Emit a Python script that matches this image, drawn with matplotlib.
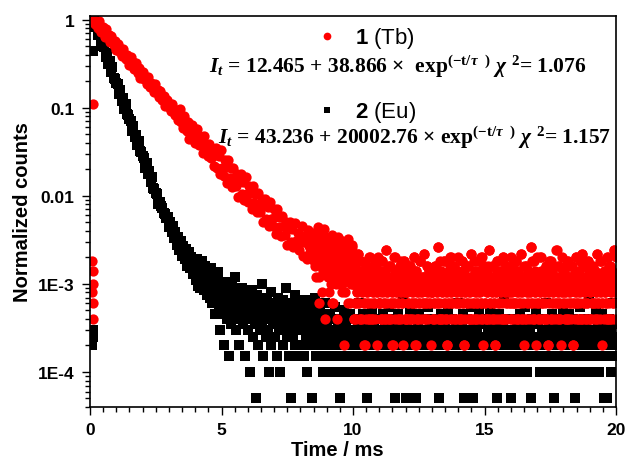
import numpy as np
from matplotlib import pyplot as plt
from matplotlib.ticker import MultipleLocator, LogLocator, NullFormatter

# --- data ----------------------------------------------------------------
# 1 (Tb): channels before the pulse, the decay (0.0465 ms step from 0.15 ms),
# then the noisy tail as detector counts (1 count = 2e-4), even channels from
# 8.5 ms and odd channels from 8.5125 ms, each at a 0.025 ms step
tb_pre_t = [0.10, 0.08, 0.10, 0.12, 0.08, 0.10, 0.12]
tb_pre = [0.109, 1.8e-3, 1.4e-3, 1.0e-3, 8e-4, 6e-4, 4e-4]
tb_decay_dt = 0.0465

tb_decay = [
    1.00, 0.897, 0.949, 0.798, 0.960, 0.809, 0.733, 0.823, 0.748, 0.634,
    0.786, 0.637, 0.674, 0.562, 0.656, 0.569, 0.515, 0.578, 0.448, 0.517,
    0.524, 0.435, 0.460, 0.387, 0.465, 0.392, 0.355, 0.399, 0.363, 0.308,
    0.381, 0.309, 0.327, 0.273, 0.318, 0.275, 0.250, 0.280, 0.218, 0.251,
    0.254, 0.211, 0.223, 0.188, 0.225, 0.190, 0.172, 0.193, 0.176, 0.150,
    0.185, 0.150, 0.158, 0.132, 0.154, 0.134, 0.121, 0.136, 0.105, 0.122,
    0.123, 0.102, 0.108, 0.0909, 0.109, 0.0921, 0.0834, 0.0937, 0.0853, 0.0723,
    0.0975, 0.0695, 0.0790, 0.0583, 0.0796, 0.0635, 0.0549, 0.0695, 0.0445, 0.0601,
    0.0629, 0.0463, 0.0534, 0.0396, 0.0574, 0.0438, 0.0373, 0.0475, 0.0413, 0.0310,
    0.0472, 0.0337, 0.0382, 0.0282, 0.0385, 0.0307, 0.0266, 0.0337, 0.0216, 0.0292,
    0.0348, 0.0209, 0.0285, 0.0175, 0.0327, 0.0206, 0.0169, 0.0256, 0.0210, 0.0138,
    0.0255, 0.0161, 0.0205, 0.0127, 0.0209, 0.0157, 0.0128, 0.0178, 0.0097, 0.0151,
    0.0175, 0.0105, 0.0144, 0.0089, 0.0165, 0.0104, 0.0086, 0.0130, 0.0107, 0.0071,
    0.0130, 0.0082, 0.0105, 0.0066, 0.0107, 0.0081, 0.0066, 0.0092, 0.0051, 0.0080,
    0.0091, 0.0055, 0.0075, 0.0046, 0.0086, 0.0055, 0.0046, 0.0070, 0.0057, 0.0037,
    0.0070, 0.0044, 0.0057, 0.0035, 0.0059, 0.0045, 0.0036, 0.0051, 0.0028, 0.0044,
    0.0050, 0.0030, 0.0042, 0.0026, 0.0049, 0.0031, 0.0026, 0.0038, 0.0024, 0.0033,
    0.0045, 0.0021, 0.0030, 0.0036, 0.0019, 0.0041, 0.0027, 0.0023, 0.0034, 0.0029,
]

tb_tail_even = [
    14, 9, 18, 11, 6, 16, 22, 10, 13, 3, 15, 8, 12, 19, 7, 11, 14, 2, 10, 17,
    12, 7, 15, 4, 10, 8, 13, 5, 18, 9, 3, 11, 7, 14, 6, 10, 2, 12, 8, 16,
    5, 9, 11, 4, 13, 7, 10, 1, 8, 12, 6, 15, 9, 3, 11, 7, 10, 5, 14, 8,
    5, 2, 8, 3, 6, 2, 4, 11, 3, 7, 2, 5, 9, 4, 2, 6, 3, 1, 5, 2,
    8, 4, 3, 6, 2, 10, 5, 3, 7, 2, 4, 6, 3, 9, 2, 5, 4, 1, 7, 3,
    3, 6, 2, 4, 9, 2, 5, 3, 7, 2, 12, 4, 3, 6, 2, 5, 8, 3, 2, 4,
    1, 6, 3, 10, 2, 5, 4, 7, 3, 2, 6, 8, 4, 2, 3, 5, 1, 9, 4, 2,
    2, 7, 4, 3, 2, 5, 8, 2, 6, 3, 4, 2, 10, 5, 3, 1, 7, 2, 4, 6,
    3, 2, 9, 5, 4, 2, 3, 6, 11, 2, 5, 3, 8, 4, 2, 7, 3, 6, 1, 4,
    4, 2, 6, 3, 8, 2, 5, 4, 3, 13, 2, 6, 3, 7, 2, 4, 5, 2, 9, 3,
    6, 2, 4, 1, 5, 3, 7, 2, 10, 4, 3, 2, 6, 8, 5, 2, 3, 4, 7, 2,
    6, 3, 2, 5, 4, 9, 2, 3, 7, 1, 4, 2, 6, 3, 5, 8, 2, 4, 3, 11,
    2, 5, 6, 3, 2, 7, 4, 2, 3, 9, 5, 2, 4, 6, 3, 10, 2, 5, 1, 8,
    3, 5, 2, 7, 4, 2, 6, 12, 3, 2, 5, 4, 8, 2, 3, 6, 1, 4, 2, 9,
    5, 3, 2, 7, 4, 6, 2, 3, 10, 5, 2, 4, 8, 3, 2, 6, 4, 7, 3, 5,
    2, 4, 8, 3, 6, 2, 5, 3, 9, 2, 4, 7, 2, 3, 5, 11, 4, 2, 6, 3,
    1, 5, 2, 8, 4, 3, 7, 2, 6, 4, 13, 3, 2, 5, 9, 2, 4, 3, 6, 1,
    5, 3, 2, 6, 4, 10, 2, 3, 7, 5, 2, 4, 3, 8, 2, 6, 1, 4, 3, 5,
    9, 2, 7, 3, 4, 2, 6, 5, 3, 12, 2, 4, 8, 3, 2, 5, 6, 1, 4, 7,
    3, 7, 4, 2, 5, 3, 9, 2, 6, 4, 3, 2, 8, 5, 1, 3, 6, 2, 4, 10,
    3, 5, 2, 7, 4, 3, 2, 6, 11, 5, 2, 3, 4, 8, 2, 6, 3, 9, 5, 2,
    4, 2, 6, 3, 8, 5, 2, 3, 7, 4, 2, 11, 3, 5, 6, 2, 4, 9, 3, 1,
    5, 2, 7, 4, 3, 6, 2, 10, 5, 3, 2, 8, 4, 6, 2, 3, 5, 12, 4, 2,
]
tb_tail_odd = [
    11, 16, 8, 13, 20, 9, 12, 15, 6, 14, 10, 17, 4, 12, 9, 21, 13, 7, 11, 15,
    9, 14, 6, 11, 16, 8, 12, 3, 10, 13, 7, 15, 9, 11, 5, 13, 8, 17, 10, 6,
    12, 8, 14, 5, 10, 7, 11, 13, 4, 9, 12, 6, 16, 8, 10, 3, 11, 7, 13, 9,
    5, 2, 8, 3, 6, 9, 4, 11, 3, 7, 2, 5, 9, 4, 6, 7, 3, 1, 5, 8,
    8, 4, 3, 6, 2, 10, 5, 7, 6, 2, 4, 6, 3, 9, 8, 5, 4, 10, 7, 3,
    3, 6, 2, 7, 9, 4, 5, 3, 7, 2, 12, 4, 8, 6, 2, 5, 8, 3, 6, 4,
    1, 6, 3, 10, 7, 5, 4, 7, 3, 2, 6, 8, 4, 9, 3, 5, 6, 9, 4, 5,
    2, 7, 4, 3, 8, 5, 8, 2, 6, 3, 4, 7, 10, 5, 3, 1, 7, 2, 4, 6,
    3, 9, 9, 5, 4, 6, 3, 6, 11, 2, 5, 3, 8, 4, 6, 7, 3, 6, 5, 4,
    4, 2, 6, 3, 8, 7, 5, 4, 3, 13, 2, 6, 9, 7, 2, 4, 5, 6, 9, 3,
    6, 2, 4, 1, 5, 3, 7, 8, 10, 4, 3, 5, 6, 8, 5, 2, 3, 4, 7, 10,
    6, 3, 2, 5, 4, 9, 7, 3, 7, 1, 4, 8, 6, 3, 5, 8, 2, 4, 6, 11,
    2, 5, 6, 3, 9, 7, 4, 2, 3, 9, 5, 7, 4, 6, 3, 10, 2, 5, 8, 8,
    3, 5, 2, 7, 4, 8, 6, 12, 3, 6, 5, 4, 8, 2, 3, 6, 1, 4, 7, 9,
    5, 3, 6, 7, 4, 6, 2, 9, 10, 5, 2, 4, 8, 3, 5, 6, 4, 7, 3, 10,
    2, 4, 8, 3, 6, 7, 5, 3, 9, 2, 4, 7, 5, 3, 5, 11, 4, 2, 6, 8,
    5, 5, 2, 8, 4, 3, 7, 6, 6, 4, 13, 3, 9, 5, 9, 2, 4, 7, 6, 10,
    5, 3, 2, 6, 4, 10, 7, 3, 7, 5, 2, 4, 6, 8, 2, 6, 1, 4, 9, 5,
    9, 2, 7, 3, 4, 8, 6, 5, 3, 12, 6, 4, 8, 3, 2, 5, 6, 10, 4, 7,
    3, 7, 4, 2, 5, 8, 9, 2, 6, 4, 3, 6, 8, 5, 1, 3, 6, 7, 4, 10,
    3, 5, 2, 7, 4, 9, 2, 6, 11, 5, 8, 3, 4, 8, 2, 6, 3, 9, 5, 7,
    4, 2, 6, 3, 8, 5, 7, 3, 7, 4, 2, 11, 3, 5, 6, 9, 4, 9, 3, 6,
    5, 6, 7, 4, 3, 6, 2, 10, 5, 8, 2, 8, 4, 6, 7, 3, 5, 12, 4, 10,
]
tb_unit = 2e-4

# 2 (Eu): decay at 0.05 ms step from 0.15 ms, tail as counts (0.025 ms step
# from 4.0 ms, 1 count = 5e-5)
eu_pre_t = [0.10, 0.10, 0.12, 0.08]
eu_pre = [0.444, 3e-4, 2.5e-4, 2e-4]

eu_decay = [
    1.00, 0.828, 0.884, 0.669, 0.758, 0.576, 0.561, 0.504, 0.486, 0.372,
    0.421, 0.316, 0.337, 0.256, 0.290, 0.220, 0.214, 0.193, 0.186, 0.1425,
    0.161, 0.1207, 0.129, 0.0979, 0.110, 0.0842, 0.0819, 0.0737, 0.0711, 0.0543,
    0.0616, 0.0463, 0.0494, 0.0374, 0.0423, 0.0321, 0.0313, 0.0281, 0.0272, 0.0208,
    0.0236, 0.0177, 0.0189, 0.01425, 0.0162, 0.01226, 0.0120, 0.01074, 0.0104, 0.0080,
    0.0085, 0.0076, 0.0072, 0.0064, 0.0062, 0.0056, 0.0058, 0.0044, 0.0050, 0.0039,
    0.0045, 0.0033, 0.0039, 0.0028, 0.0034, 0.0024, 0.0031, 0.0021, 0.0027, 0.0019,
    0.0025, 0.0016, 0.0023, 0.0015, 0.0020, 0.0013, 0.0019,
]

eu_tail_counts = [
    34, 22, 28, 38, 19, 26, 31, 24, 18, 29, 36, 21, 25, 17, 27, 32, 20, 23, 15, 26,
    19, 28, 14, 22, 30, 17, 12, 21, 25, 16, 9, 19, 23, 13, 27, 15, 11, 18, 6, 20,
    14, 9, 18, 11, 4, 16, 12, 21, 8, 13, 10, 15, 3, 17, 11, 7, 19, 12, 9, 14,
    24, 10, 6, 13, 16, 8, 11, 4, 15, 9, 12, 18, 7, 10, 13, 3, 14, 11, 8, 16,
    11, 6, 14, 8, 2, 12, 9, 17, 5, 10, 13, 7, 1, 11, 15, 8, 4, 9, 12, 6,
    10, 20, 7, 3, 13, 9, 11, 5, 8, 14, 6, 10, 2, 12, 8, 16, 4, 9, 11, 7,
    9, 5, 12, 7, 3, 10, 14, 6, 8, 2, 11, 7, 9, 4, 13, 8, 6, 10, 18, 5,
    7, 9, 3, 12, 6, 8, 1, 10, 5, 11, 7, 15, 4, 9, 6, 8, 12, 3, 7, 10,
    6, 9, 4, 11, 7, 3, 8, 13, 5, 7, 2, 10, 6, 8, 4, 12, 7, 1, 9, 5,
    8, 6, 14, 3, 7, 10, 5, 8, 4, 6, 11, 3, 9, 7, 2, 8, 5, 12, 6, 4,
    4, 7, 3, 5, 2, 9, 4, 6, 3, 8, 5, 3, 11, 4, 2, 6, 3, 7, 4, 5,
    1, 4, 8, 3, 6, 2, 4, 10, 5, 3, 7, 4, 2, 6, 3, 5, 9, 4, 3, 6,
    5, 3, 6, 4, 8, 2, 3, 7, 4, 12, 3, 5, 4, 2, 6, 9, 3, 4, 7, 5,
    3, 6, 1, 4, 8, 3, 5, 2, 4, 10, 6, 3, 7, 4, 2, 5, 3, 8, 6, 4,
    3, 6, 4, 2, 5, 3, 9, 4, 7, 3, 5, 2, 4, 6, 11, 3, 4, 8, 2, 5,
    4, 3, 7, 6, 1, 4, 3, 5, 9, 2, 6, 4, 3, 7, 5, 4, 13, 3, 6, 2,
    4, 1, 7, 5, 3, 4, 6, 10, 3, 5, 2, 4, 8, 3, 6, 4, 1, 5, 3, 7,
    4, 9, 2, 3, 6, 4, 5, 3, 8, 4, 2, 6, 3, 5, 11, 4, 3, 7, 4, 5,
    6, 3, 4, 8, 2, 5, 3, 4, 7, 3, 6, 1, 4, 5, 9, 3, 2, 6, 4, 3,
    7, 5, 4, 3, 10, 6, 2, 4, 3, 5, 8, 4, 3, 6, 2, 4, 7, 3, 5, 12,
    3, 5, 2, 4, 6, 3, 7, 4, 9, 1, 5, 3, 4, 8, 3, 6, 4, 2, 5, 11,
    3, 4, 6, 1, 7, 3, 4, 5, 2, 6, 3, 10, 4, 5, 3, 7, 4, 2, 8, 3,
    5, 4, 3, 7, 2, 4, 6, 3, 5, 10, 4, 3, 8, 2, 6, 4, 3, 5, 7, 1,
    4, 3, 9, 6, 2, 4, 5, 3, 7, 4, 14, 3, 6, 2, 5, 4, 3, 8, 4, 6,
    1, 6, 4, 3, 5, 8, 3, 4, 2, 7, 4, 5, 3, 6, 9, 4, 3, 2, 5, 4,
    6, 3, 11, 4, 7, 2, 3, 5, 4, 6, 1, 3, 8, 4, 5, 3, 7, 4, 10, 3,
    4, 3, 7, 5, 2, 4, 3, 6, 8, 4, 3, 5, 2, 4, 12, 6, 3, 4, 7, 2,
    5, 3, 4, 9, 6, 3, 1, 4, 5, 3, 7, 2, 4, 6, 3, 8, 5, 4, 3, 10,
    6, 4, 3, 2, 5, 7, 4, 3, 9, 4, 6, 2, 3, 5, 4, 8, 3, 1, 6, 4,
    3, 7, 5, 2, 4, 11, 3, 6, 4, 5, 2, 3, 8, 4, 7, 3, 5, 4, 6, 13,
    3, 5, 4, 8, 3, 2, 6, 4, 5, 3, 10, 4, 7, 3, 2, 5, 4, 6, 3, 9,
    4, 1, 3, 6, 5, 4, 7, 1, 3, 4, 8, 5, 2, 6, 3, 4, 12, 5, 3, 7,
]
eu_unit = 5e-5

ytick_vals = [1e-4, 1e-3, 1e-2, 1e-1, 1]
ytick_labels = ['1E-4', '1E-3', '0.01', '0.1', '1']
xtick_vals = [0, 5, 10, 15, 20]

# --- assemble series ------------------------------------------------------
tb_t = np.concatenate([tb_pre_t,
                       0.15 + tb_decay_dt * np.arange(len(tb_decay)),
                       8.5 + 0.025 * np.arange(len(tb_tail_even)),
                       8.5125 + 0.025 * np.arange(len(tb_tail_odd))])
tb_y = np.concatenate([tb_pre, tb_decay,
                       np.array(tb_tail_even) * tb_unit,
                       np.array(tb_tail_odd) * tb_unit])

eu_t = np.concatenate([eu_pre_t,
                       0.15 + 0.05 * np.arange(len(eu_decay)),
                       4.0 + 0.025 * np.arange(len(eu_tail_counts))])
eu_y = np.concatenate([eu_pre, eu_decay, np.array(eu_tail_counts) * eu_unit])

# --- figure ---------------------------------------------------------------
plt.rcParams['font.family'] = 'Liberation Sans'
plt.rcParams['mathtext.fontset'] = 'custom'
plt.rcParams['mathtext.rm'] = 'Liberation Serif:bold'
plt.rcParams['mathtext.it'] = 'Liberation Serif:italic:bold'
plt.rcParams['mathtext.bf'] = 'Liberation Sans:bold'

fig = plt.figure(figsize=(6.26, 4.6), dpi=100)
ax = fig.add_axes([0.1438, 0.113, 0.8403, 0.850])

h_eu, = ax.plot(eu_t, eu_y, linestyle='none', marker='s', markersize=6.5,
                markeredgewidth=0, color='black')
h_tb, = ax.plot(tb_t, tb_y, linestyle='none', marker='o', markersize=7.4,
                markeredgewidth=0, color='#ff0000')

ax.set_yscale('log')
ax.set_xlim(0, 20)
ax.set_ylim(4e-5, 1.1)

ax.set_xticks(xtick_vals)
ax.xaxis.set_minor_locator(MultipleLocator(0.5))
ax.set_yticks(ytick_vals)
ax.set_yticklabels(ytick_labels)
ax.yaxis.set_minor_locator(LogLocator(base=10, subs=np.arange(2, 10)))
ax.yaxis.set_minor_formatter(NullFormatter())

ax.tick_params(which='both', direction='out', top=False, right=False, width=1)
ax.tick_params(which='major', length=6, labelsize=12.5, pad=5)
ax.tick_params(which='minor', length=3.5)
for lab in ax.get_xticklabels() + ax.get_yticklabels():
    lab.set_fontweight('bold')
for sp in ax.spines.values():
    sp.set_linewidth(1.2)

ax.set_xlabel('Time / ms', fontsize=14.5, fontweight='bold')
ax.set_ylabel('Normalized counts', fontsize=14.5, fontweight='bold')
ax.xaxis.set_label_coords(0.47, -0.085)
ax.yaxis.set_label_coords(-0.11, 0.5)

ax.legend([h_tb, h_eu], [r'$\mathbf{1}$ (Tb)', r'$\mathbf{2}$ (Eu)'],
          loc='upper left', bbox_to_anchor=(0.43, 0.976), frameon=False,
          prop={'family': 'Liberation Sans', 'size': 16},
          handlelength=1.0, handletextpad=0.75, labelspacing=2.2,
          borderpad=0, borderaxespad=0, markerscale=0.75, numpoints=1)

serif_bold = {'family': 'Liberation Serif', 'weight': 'bold', 'size': 15.5}
ax.text(0.226, 0.857,
        r'$I_t$ = 12.465 + 38.866 ×  exp$^{\mathrm{(-t/}\tau\ \ \mathrm{)}}$ $\chi$ $^{2}$= 1.076',
        transform=ax.transAxes, ha='left', va='baseline', fontdict=serif_bold)
ax.text(0.243, 0.674,
        r'$I_t$ = 43.236 + 20002.76 × exp$^{\mathrm{(-t/}\tau\ \ \mathrm{)}}$ $\chi$ $^{2}$= 1.157',
        transform=ax.transAxes, ha='left', va='baseline', fontdict=serif_bold)

fig.savefig('out.png', dpi=100)
